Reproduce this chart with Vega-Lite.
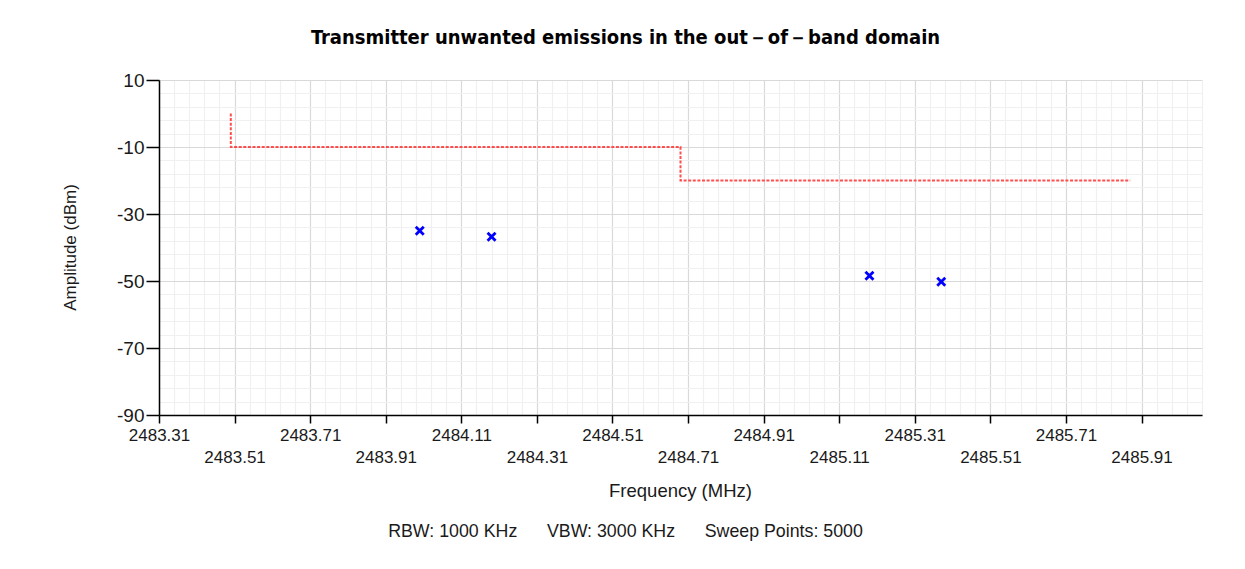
{
  "$schema": "https://vega.github.io/schema/vega-lite/v6.json",
  "autosize": {"type": "none"},
  "width": 1043,
  "height": 335,
  "padding": {"left": 159, "top": 80, "right": 43, "bottom": 154},
  "background": "white",
  "title": {
    "text": "Transmitter unwanted emissions in the out－of－band domain",
    "font": "DejaVu Sans Condensed, Liberation Sans",
    "fontSize": 20,
    "fontWeight": "bold",
    "color": "#000000",
    "anchor": "middle",
    "frame": "group",
    "dx": -55,
    "offset": 23
  },
  "config": {
    "view": {"stroke": null},
    "axis": {"labelFont": "Liberation Sans", "titleFont": "Liberation Sans", "labelColor": "#1a1a1a", "titleColor": "#1a1a1a", "titleFontWeight": "normal"}
  },
  "datasets": {
    "meas": [
      {"freq": 2484.00, "amp": -35.0},
      {"freq": 2484.19, "amp": -36.8},
      {"freq": 2485.19, "amp": -48.4},
      {"freq": 2485.38, "amp": -50.2}
    ],
    "limit": [
      {"i": 0, "freq": 2483.50, "amp": 0},
      {"i": 1, "freq": 2483.50, "amp": -10},
      {"i": 2, "freq": 2484.69, "amp": -10},
      {"i": 3, "freq": 2484.69, "amp": -20},
      {"i": 4, "freq": 2485.88, "amp": -20}
    ]
  },
  "resolve": {"axis": {"x": "independent", "y": "independent"}},
  "layer": [
    {
      "data": {"name": "meas"},
      "mark": {"type": "point", "shape": "M-1,-1L1,1M-1,1L1,-1", "filled": false, "stroke": "#0000ff", "strokeWidth": 2.8, "size": 64, "opacity": 1},
      "encoding": {
        "x": {
          "field": "freq", "type": "quantitative",
          "scale": {"domain": [2483.31, 2486.07], "nice": false, "zero": false},
          "axis": {
            "orient": "bottom",
            "values": [2483.31, 2483.51, 2483.71, 2483.91, 2484.11, 2484.31, 2484.51, 2484.71, 2484.91, 2485.11, 2485.31, 2485.51, 2485.71, 2485.91],
            "format": ".2f",
            "labelExpr": "round((datum.value - 2483.31) / 0.2) % 2 == 1 ? ['', datum.label] : datum.label",
            "labelLineHeight": 22,
            "labelFontSize": 17,
            "labelBaseline": "top",
            "labelPadding": 4,
            "labelOverlap": false,
            "labelFlush": false,
            "labelBound": false,
            "tickSize": 8,
            "tickColor": "#000000",
            "tickWidth": 1.5,
            "domainColor": "#000000",
            "domainWidth": 1.5,
            "grid": true,
            "gridColor": "#d9d9d9",
            "gridWidth": 1.2,
            "title": "Frequency (MHz)",
            "titleFontSize": 18.5,
            "titleX": 521,
            "titleY": 75,
            "titleAlign": "center",
            "titleBaseline": "middle"
          }
        },
        "y": {
          "field": "amp", "type": "quantitative",
          "scale": {"domain": [-90, 10], "nice": false, "zero": false},
          "axis": {
            "orient": "left",
            "values": [-90, -70, -50, -30, -10, 10],
            "labelExpr": "toString(datum.value)",
            "labelFontSize": 19,
            "labelPadding": 2,
            "tickSize": 13,
            "tickColor": "#000000",
            "tickWidth": 1.5,
            "domainColor": "#000000",
            "domainWidth": 1.5,
            "grid": true,
            "gridColor": "#d9d9d9",
            "gridWidth": 1.2,
            "title": "Amplitude (dBm)",
            "titleFontSize": 17,
            "titleX": -89,
            "titleY": 167,
            "titleAlign": "center",
            "titleBaseline": "middle"
          }
        }
      }
    },
    {
      "data": {"name": "limit"},
      "mark": {"type": "line", "color": "#ff3b3b", "strokeWidth": 2, "strokeDash": [3, 1.6], "opacity": 0.9, "interpolate": "linear"},
      "encoding": {
        "x": {
          "field": "freq", "type": "quantitative",
          "axis": {
            "orient": "bottom",
            "values": [2483.35, 2483.39, 2483.43, 2483.47, 2483.55, 2483.59, 2483.63, 2483.67, 2483.75, 2483.79, 2483.83, 2483.87, 2483.95, 2483.99, 2484.03, 2484.07, 2484.15, 2484.19, 2484.23, 2484.27, 2484.35, 2484.39, 2484.43, 2484.47, 2484.55, 2484.59, 2484.63, 2484.67, 2484.75, 2484.79, 2484.83, 2484.87, 2484.95, 2484.99, 2485.03, 2485.07, 2485.15, 2485.19, 2485.23, 2485.27, 2485.35, 2485.39, 2485.43, 2485.47, 2485.55, 2485.59, 2485.63, 2485.67, 2485.75, 2485.79, 2485.83, 2485.87, 2485.95, 2485.99, 2486.03, 2486.07],
            "labels": false,
            "ticks": false,
            "domain": false,
            "grid": true,
            "gridColor": "#f0f0f0",
            "gridWidth": 1.2,
            "title": "RBW: 1000 KHz\u00a0\u00a0\u00a0\u00a0\u00a0 VBW: 3000 KHz\u00a0\u00a0\u00a0\u00a0\u00a0 Sweep Points: 5000",
            "titleFontSize": 17.8,
            "titleX": 466,
            "titleY": 116,
            "titleAlign": "center",
            "titleBaseline": "middle"
          }
        },
        "y": {
          "field": "amp", "type": "quantitative",
          "axis": {
            "orient": "right",
            "values": [-86, -82, -78, -74, -66, -62, -58, -54, -46, -42, -38, -34, -26, -22, -18, -14, -6, -2, 2, 6],
            "labels": false,
            "ticks": false,
            "domain": false,
            "grid": true,
            "gridColor": "#f0f0f0",
            "gridWidth": 1.2,
            "title": null
          }
        },
        "order": {"field": "i", "type": "quantitative"}
      }
    }
  ]
}
